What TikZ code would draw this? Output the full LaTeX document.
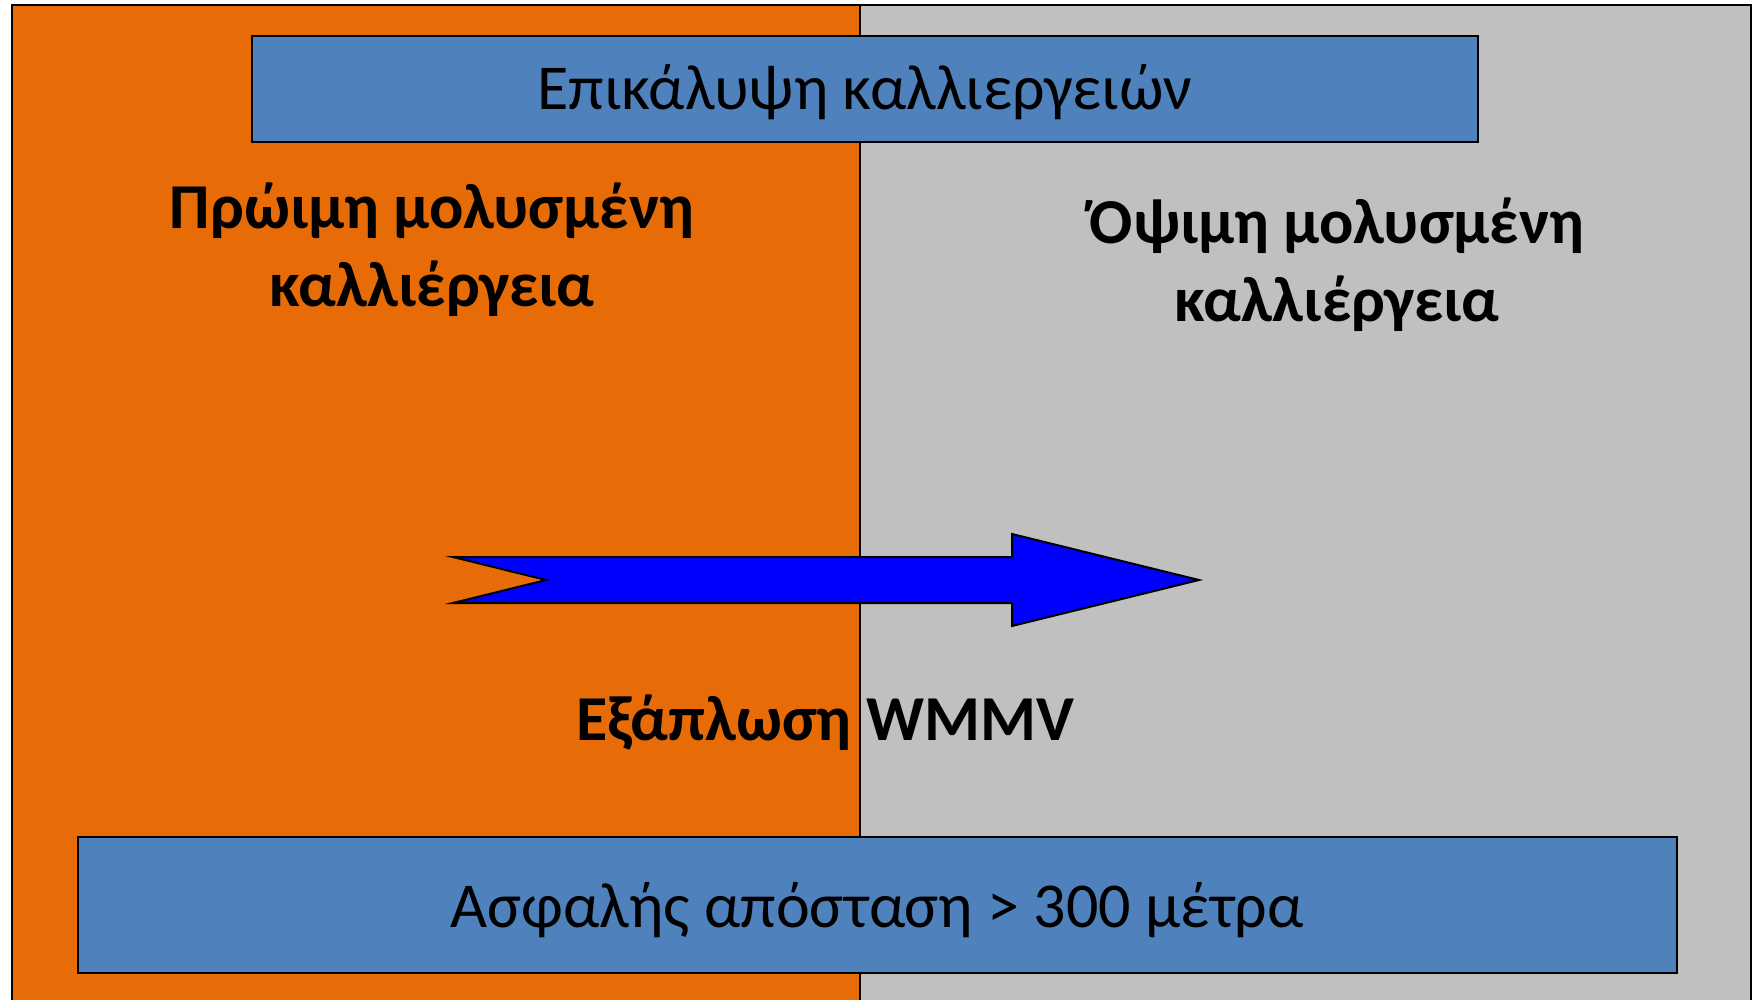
\documentclass[tikz,border=0pt]{standalone}
\usepackage{fontspec}
\setmainfont{Carlito}
\definecolor{fieldorange}{HTML}{E76C08}
\definecolor{fieldgray}{HTML}{C0C0C0}
\definecolor{bannerblue}{HTML}{4F81BD}
\definecolor{spreadblue}{HTML}{0000FF}
\tikzset{
  banner/.style={draw=black, line width=2pt, fill=bannerblue},
  bannertext/.style={font=\fontsize{64}{78}\selectfont, text=black, inner sep=0pt},
  fieldlabel/.style={font=\fontsize{64}{78}\selectfont\bfseries, text=black, align=center, inner sep=0pt},
}
\begin{document}
\begin{tikzpicture}[x=1pt, y=-1pt]
  \useasboundingbox (0,0) rectangle (1756,999);
  \clip (0,0) rectangle (1756,999);
  % two fields
  \fill[white] (0,0) rectangle (1756,999);
  \fill[fieldorange] (12,5) rectangle (860,1010);
  \fill[fieldgray] (860,5) rectangle (1751,1010);
  \draw[line width=2pt] (12,1010) -- (12,5) -- (1751,5) -- (1751,1010);
  \draw[line width=1.5pt] (860,5) -- (860,1010);
  % top banner
  \draw[banner] (252,36) rectangle (1478,142);
  \node[bannertext] (cover) at (865,92) {Επικάλυψη καλλιεργειών};
  % field labels
  \node[fieldlabel] (early) at (432,250) {Πρώιμη μολυσμένη\\καλλιέργεια};
  \node[fieldlabel] (late) at (1337,265) {Όψιμη μολυσμένη\\καλλιέργεια};
  % spread arrow
  \draw[line width=2pt, fill=spreadblue, line join=miter]
    (453,557) -- (1012,557) -- (1012,534) -- (1199,580) -- (1012,626)
    -- (1012,603) -- (453,603) -- (546,580) -- cycle;
  \node[fieldlabel] (spread) at (825,723) {Εξάπλωση WMMV};
  % bottom banner
  \draw[banner] (78,837) rectangle (1677,973);
  \node[bannertext] (safe) at (877,910) {Ασφαλής απόσταση > 300 μέτρα};
\end{tikzpicture}
\end{document}
